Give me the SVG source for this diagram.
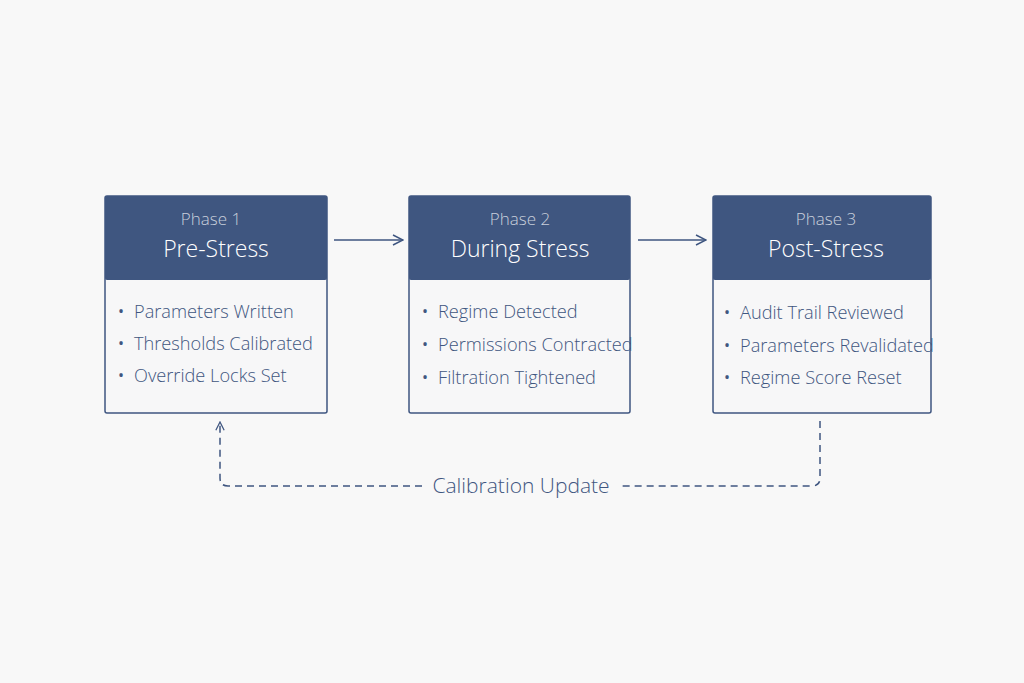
<svg xmlns="http://www.w3.org/2000/svg" width="1024" height="683" viewBox="0 0 1024 683">
<defs>
<marker id="ah" viewBox="0 0 12 12" refX="11" refY="6" markerWidth="12" markerHeight="12" markerUnits="userSpaceOnUse" orient="auto"><path d="M1,1 L11,6 L1,11" fill="none" stroke="#3f5680" stroke-width="1.5"/></marker>
<marker id="ah2" viewBox="0 0 12 12" refX="11" refY="6" markerWidth="10" markerHeight="10" markerUnits="userSpaceOnUse" orient="auto"><path d="M1,1 L11,6 L1,11" fill="none" stroke="#3f5680" stroke-width="1.5"/></marker>
</defs>
<style>
.box{fill:#f7f7f8;stroke:#3f5680;stroke-width:1.5}
.hdr{fill:#3f5680}
.ph{font-family:"Open Sans",sans-serif;font-weight:300;font-size:17px;fill:#c9d0dc;text-anchor:middle}
.tt{font-family:"Open Sans",sans-serif;font-weight:300;font-size:23px;fill:#ffffff;text-anchor:middle}
.it{font-family:"Open Sans",sans-serif;font-weight:300;font-size:18.2px;fill:#3f5680}
.bu{font-family:"Open Sans",sans-serif;font-size:16px;fill:#3f5680}
.ln{fill:none;stroke:#3f5680;stroke-width:1.5}
.dl{fill:none;stroke:#3f5680;stroke-width:1.5;stroke-dasharray:7 5}
</style>
<rect width="1024" height="683" fill="#f8f8f8"/>
<g id="phase1">
<rect class="box" x="105" y="196" width="222" height="217" rx="2"/>
<rect class="hdr" x="105" y="196" width="222" height="84" rx="2"/>
<text class="ph" x="211" y="225">Phase 1</text>
<text class="tt" x="216" y="257">Pre-Stress</text>
<text class="bu" x="118" y="317">•</text><text class="it" x="134" y="318">Parameters Written</text>
<text class="bu" x="118" y="349">•</text><text class="it" x="134" y="350">Thresholds Calibrated</text>
<text class="bu" x="118" y="381">•</text><text class="it" x="134" y="382">Override Locks Set</text>
</g>
<g id="phase2">
<rect class="box" x="409" y="196" width="221" height="217" rx="2"/>
<rect class="hdr" x="409" y="196" width="221" height="84" rx="2"/>
<text class="ph" x="520" y="225">Phase 2</text>
<text class="tt" x="520" y="257">During Stress</text>
<text class="bu" x="422" y="317">•</text><text class="it" x="438" y="318">Regime Detected</text>
<text class="bu" x="422" y="350">•</text><text class="it" x="438" y="351">Permissions Contracted</text>
<text class="bu" x="422" y="383">•</text><text class="it" x="438" y="384">Filtration Tightened</text>
</g>
<g id="phase3">
<rect class="box" x="713" y="196" width="218" height="217" rx="2"/>
<rect class="hdr" x="713" y="196" width="218" height="84" rx="2"/>
<text class="ph" x="826" y="225">Phase 3</text>
<text class="tt" x="826" y="257">Post-Stress</text>
<text class="bu" x="724" y="318">•</text><text class="it" x="740" y="319">Audit Trail Reviewed</text>
<text class="bu" x="724" y="351">•</text><text class="it" x="740" y="352">Parameters Revalidated</text>
<text class="bu" x="724" y="383">•</text><text class="it" x="740" y="384">Regime Score Reset</text>
</g>
<g id="connectors">
<line class="ln" x1="334" y1="240" x2="403" y2="240" marker-end="url(#ah)"/>
<line class="ln" x1="638" y1="240" x2="706" y2="240" marker-end="url(#ah)"/>
<path class="dl" d="M820,421 V478 Q820,486 812,486 H618"/>
<path class="dl" d="M422,486 H228 Q220,486 220,478 V422" marker-end="url(#ah2)"/>
<text x="521" y="493" font-family="Open Sans, sans-serif" font-weight="300" font-size="21" fill="#3f5680" text-anchor="middle">Calibration Update</text>
</g>
</svg>
